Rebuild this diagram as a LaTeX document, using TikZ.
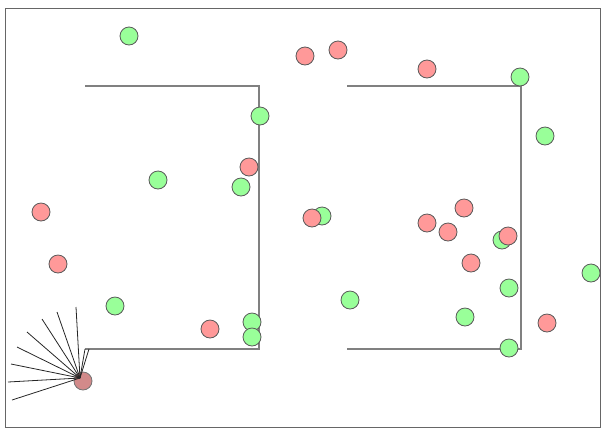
\documentclass[tikz,border=0pt]{standalone}
\begin{document}
\begin{tikzpicture}[x=1pt,y=-1pt,
  greenball/.style={circle,draw=black!65,line width=0.8pt,fill={rgb,255:red,153;green,255;blue,153},minimum size=18pt,inner sep=0pt},
  redball/.style={circle,draw=black!65,line width=0.8pt,fill={rgb,255:red,255;green,153;blue,153},minimum size=18pt,inner sep=0pt},
  robotball/.style={circle,draw=black!55,line width=0.8pt,fill={rgb,255:red,210;green,138;blue,138},minimum size=18pt,inner sep=0pt},
  wall/.style={draw=black!50,line width=1.1pt},
  ray/.style={draw=black!85,line width=0.8pt},
  frame/.style={draw=black!60,line width=1pt}]
\useasboundingbox (0,0) rectangle (607,432);
\draw[frame] (5,8) rectangle (600,427);
% walls
\draw[wall] (85,86) -- (259,86) -- (259,349) -- (85,349);
\draw[wall] (347,86) -- (521,86) -- (521,349) -- (347,349);
% green balls
\node[greenball] (g1) at (129,36) {};
\node[greenball] (g2) at (260,116) {};
\node[greenball] (g3) at (158,180) {};
\node[greenball] (g4) at (241,187) {};
\node[greenball] (g5) at (322,216) {};
\node[greenball] (g6) at (115,306) {};
\node[greenball] (g7) at (252,322) {};
\node[greenball] (g8) at (252,337) {};
\node[greenball] (g9) at (520,77) {};
\node[greenball] (g10) at (545,136) {};
\node[greenball] (g11) at (502,240) {};
\node[greenball] (g12) at (591,273) {};
\node[greenball] (g13) at (350,300) {};
\node[greenball] (g14) at (509,288) {};
\node[greenball] (g15) at (465,317) {};
\node[greenball] (g16) at (509,348) {};
% red balls
\node[redball] (r1) at (305,56) {};
\node[redball] (r2) at (338,50) {};
\node[redball] (r3) at (427,69) {};
\node[redball] (r4) at (249,167) {};
\node[redball] (r5) at (312,218) {};
\node[redball] (r6) at (41,212) {};
\node[redball] (r7) at (58,264) {};
\node[redball] (r8) at (210,329) {};
\node[redball] (r9) at (464,208) {};
\node[redball] (r10) at (427,223) {};
\node[redball] (r11) at (448,232) {};
\node[redball] (r12) at (508,236) {};
\node[redball] (r13) at (471,263) {};
\node[redball] (r14) at (547,323) {};
% robot
\node[robotball] (robot) at (83,381) {};
\coordinate (o) at (80,378);
\coordinate (e1) at (76,307);
\coordinate (e2) at (57,312);
\coordinate (e3) at (42,319);
\coordinate (e4) at (27,332);
\coordinate (e5) at (17,347);
\coordinate (e6) at (11,364);
\coordinate (e7) at (8,382);
\coordinate (e8) at (12,400);
\coordinate (e9) at (85,349);
\coordinate (e10) at (89,349);
\foreach \i in {1,...,10} \draw[ray] (o) -- (e\i);
\end{tikzpicture}
\end{document}
